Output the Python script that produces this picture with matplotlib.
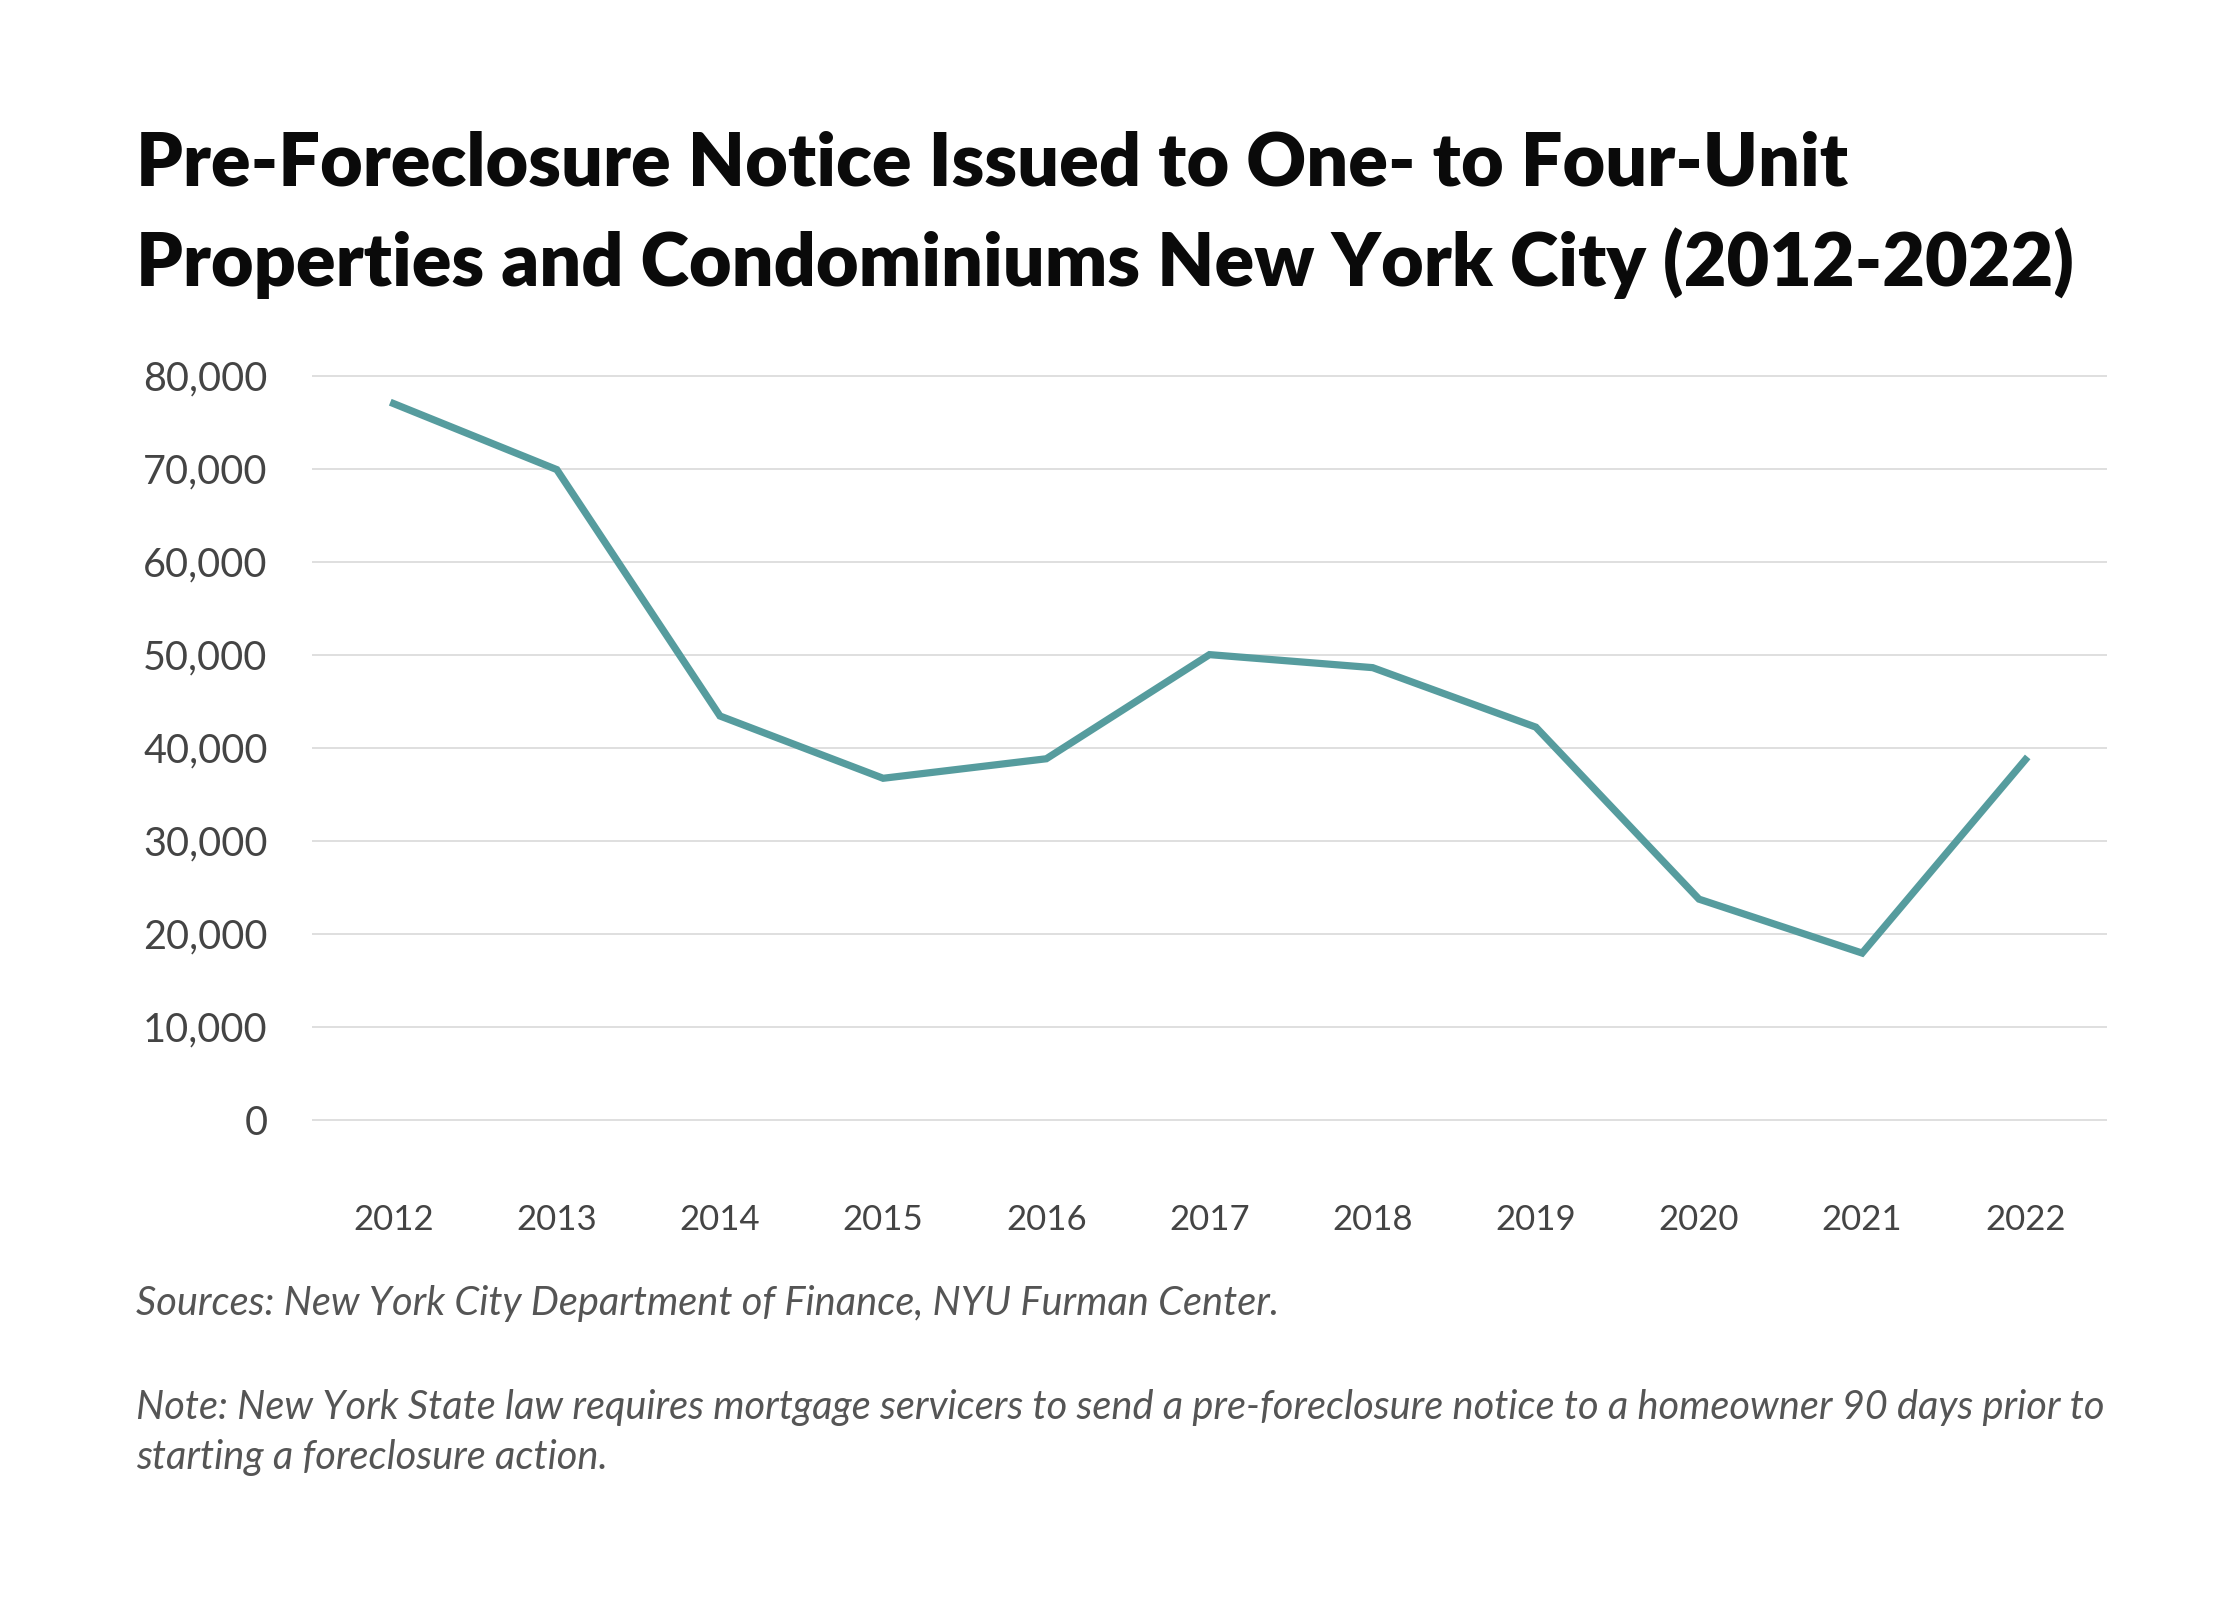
from matplotlib import pyplot as plt
import numpy as np

years = [2012, 2013, 2014, 2015, 2016, 2017, 2018, 2019, 2020, 2021, 2022]
notices = [77000, 69900, 43400, 36700, 38800, 50000, 48600, 42200, 23700, 17900, 38700]
yticks = [0, 10000, 20000, 30000, 40000, 50000, 60000, 70000, 80000]

title_lines = ["Pre-Foreclosure Notice Issued to One- to Four-Unit",
               "Properties and Condominiums New York City (2012-2022)"]
source = "Sources: New York City Department of Finance, NYU Furman Center."
note_lines = ["Note: New York State law requires mortgage servicers to send a pre-foreclosure notice to a homeowner 90 days prior to",
              "starting a foreclosure action."]

teal = '#569c9e'
grey_txt = '#444444'

fig = plt.figure(figsize=(22.4, 16), dpi=100)
ax = fig.add_axes([0.1393, 0.2945, 0.8013, 0.4765])

ax.plot(years, notices, color=teal, lw=5.2, solid_joinstyle='miter', clip_on=False)

ax.set_xlim(2011.5, 2022.5)
ax.set_ylim(-1000, 81000)
ax.set_xticks(years)
ax.set_yticks(yticks)
ax.set_yticklabels([f'{v:,}' for v in yticks])
ax.yaxis.grid(True, color='#d9d9d9', lw=1.2)
ax.set_axisbelow(True)
for s in ax.spines.values():
    s.set_visible(False)
ax.tick_params(axis='both', length=0, labelcolor=grey_txt)
ax.tick_params(axis='y', pad=32, labelsize=28.5)
ax.tick_params(axis='x', pad=54, labelsize=25)
for lab in ax.get_xticklabels() + ax.get_yticklabels():
    lab.set_family('Lato')

for i, line in enumerate(title_lines):
    fig.text(0.0607, 1 - (165 + 98 * i) / 1600, line, fontsize=53, fontweight='heavy',
             family='Lato', color='#0a0a0a', va='center')
fig.text(0.0607, 1 - 1304 / 1600, source, fontsize=28.6, style='italic',
         family='Lato', color='#555555', va='center')
for i, line in enumerate(note_lines):
    fig.text(0.0607, 1 - (1407 + 51 * i) / 1600, line, fontsize=28.6, style='italic',
             family='Lato', color='#555555', va='center')

fig.savefig('out.png', dpi=100)
